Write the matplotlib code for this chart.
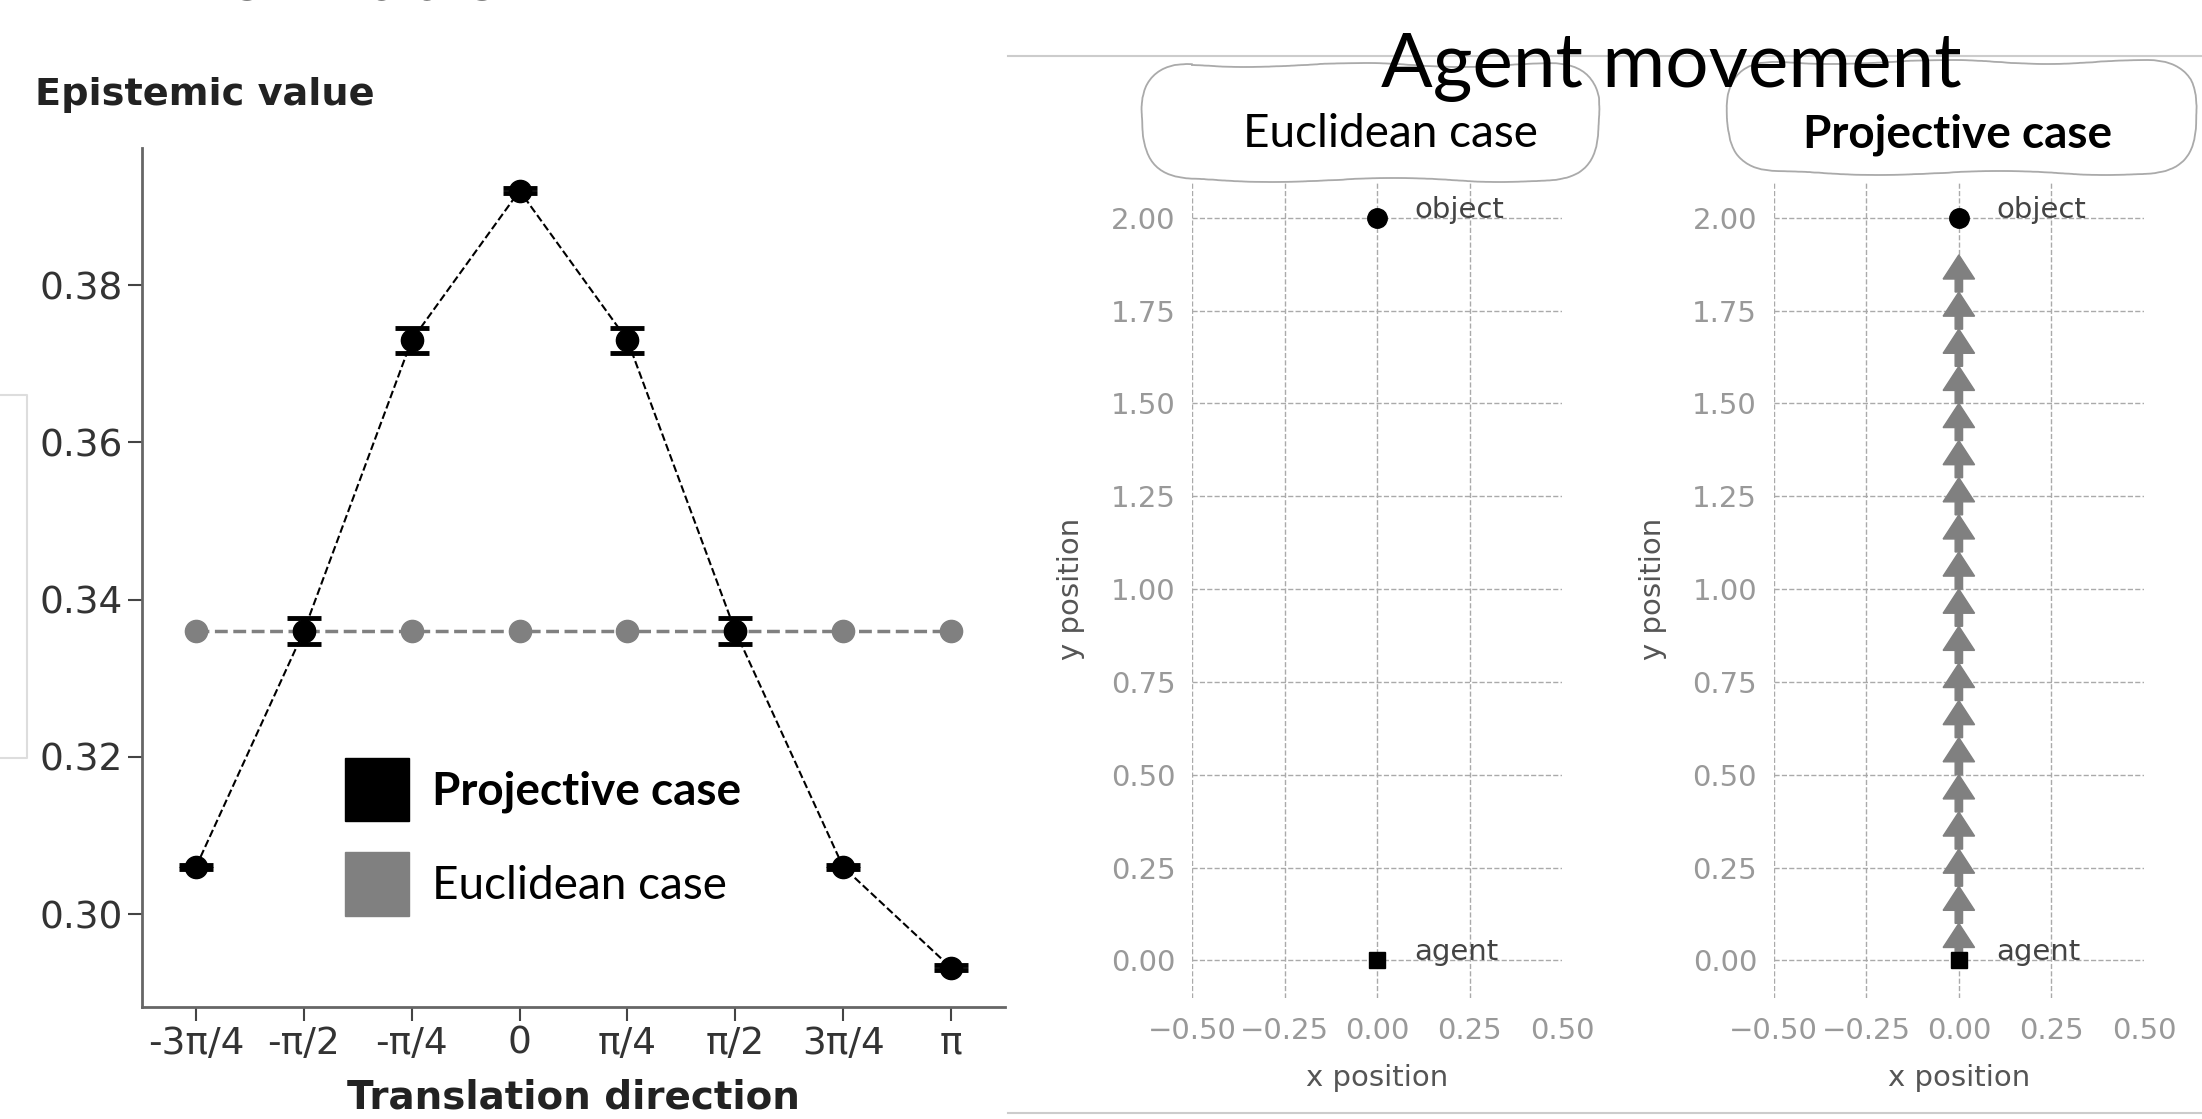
import matplotlib.pyplot as plt
from matplotlib.patches import FancyBboxPatch, Patch

# epistemic value per translation direction
directions = ['-3π/4', '-π/2', '-π/4', '0', 'π/4', 'π/2', '3π/4', 'π']
projective = [0.306, 0.336, 0.373, 0.392, 0.373, 0.336, 0.306, 0.2932]
projective_err = [0.0003, 0.0017, 0.0016, 0.0003, 0.0016, 0.0017, 0.0003, 0.0003]
euclidean = [0.336, 0.336, 0.336, 0.336, 0.336, 0.336, 0.336, 0.336]

# agent movement
object_pos = (0.0, 2.0)
agent_pos = (0.0, 0.0)
traj_x = [0.0] * 20
traj_y = [0.0, 0.1, 0.2, 0.3, 0.4, 0.5, 0.6, 0.7, 0.8, 0.9,
          1.0, 1.1, 1.2, 1.3, 1.4, 1.5, 1.6, 1.7, 1.8, 1.9]

W, H = 2202, 1119
SLIDE_FONT = 'Lato'

fig = plt.figure(figsize=(W / 100, H / 100), dpi=100)


def box(x0, y0, x1, y1):
    # pixel box (top-left origin) -> figure fraction rect
    return [x0 / W, 1 - y1 / H, (x1 - x0) / W, (y1 - y0) / H]


# canvas for the slide decorations
cv = fig.add_axes([0, 0, 1, 1], zorder=0)
cv.set_xlim(0, W)
cv.set_ylim(H, 0)
cv.axis('off')

cv.text(129, -1, 'information', fontsize=58, fontweight='bold',
        family=SLIDE_FONT, va='baseline', ha='left')
cv.plot([0, 27, 27, 0], [395, 395, 758, 758], color='#dddddd', lw=1.5)
cv.plot([1008, W], [56, 56], color='#cccccc', lw=1.5)
cv.plot([1008, W], [1113, 1113], color='#cccccc', lw=1.5)
cv.text(1671, 87, 'Agent movement', fontsize=55, family=SLIDE_FONT,
        ha='center', va='baseline')

for x0, y0, x1, y1 in [(1142, 65, 1600, 180), (1728, 62, 2198, 173)]:
    cloud = FancyBboxPatch((x0, y0), x1 - x0, y1 - y0,
                           boxstyle='round,pad=0,rounding_size=50',
                           fc='white', ec='#aaaaaa', lw=1.3)
    cloud.set_sketch_params(scale=2, length=300, randomness=4)
    cv.add_patch(cloud)
cv.text(1390, 147, 'Euclidean case', fontsize=33, family=SLIDE_FONT,
        ha='center', va='baseline')
cv.text(1958, 147, 'Projective case', fontsize=33, family=SLIDE_FONT,
        fontweight='bold', ha='center', va='baseline')

# ---- left: epistemic value ----
ax = fig.add_axes(box(142, 147.5, 1005, 1007), zorder=1)
ax.set_facecolor('none')
xs = list(range(len(directions)))
ax.plot(xs, euclidean, ls='--', color='#808080', lw=2.5, marker='o',
        ms=16, zorder=2)
ax.errorbar(xs, projective, yerr=projective_err, ls='--', color='black',
            lw=1.5, marker='o', ms=16, elinewidth=3.5, capsize=12,
            capthick=3.5, zorder=3)
ax.set_xlim(-0.5, 7.5)
ax.set_ylim(0.2882, 0.3975)
ax.set_yticks([0.30, 0.32, 0.34, 0.36, 0.38])
ax.set_xticks(xs)
ax.set_xticklabels(directions)
ax.tick_params(labelsize=27, colors='#444444', length=10, width=1.5,
               labelcolor='#333333')
for s in ['top', 'right']:
    ax.spines[s].set_visible(False)
for s in ['left', 'bottom']:
    ax.spines[s].set_color('#666666')
    ax.spines[s].set_linewidth(2)
ax.set_xlabel('Translation direction', fontsize=28, fontweight='bold',
              color='#222222', labelpad=12)
fig.text(35 / W, 1 - 95 / H, 'Epistemic value', fontsize=27.5,
         fontweight='bold', color='#222222', va='center')

handles = [Patch(color='black'), Patch(color='#808080')]
leg = ax.legend(handles, ['Projective case', 'Euclidean case'],
                loc='upper left', bbox_to_anchor=(0.235, 0.29),
                frameon=False, borderpad=0, borderaxespad=0,
                handlelength=1.4, handleheight=1.75, labelspacing=0.68,
                handletextpad=0.5, prop={'family': SLIDE_FONT, 'size': 33})
leg.get_texts()[0].set_fontweight('bold')

# ---- right: two movement panels ----
for (x0, x1), moving in [((1192, 1562), False), ((1773.7, 2144), True)]:
    a = fig.add_axes(box(x0, 180.6, x1, 997.6), zorder=1)
    a.set_facecolor('none')
    a.set_xlim(-0.5, 0.5)
    a.set_ylim(-0.1, 2.1)
    a.set_xticks([-0.5, -0.25, 0.0, 0.25, 0.5])
    a.set_yticks([0.0, 0.25, 0.5, 0.75, 1.0, 1.25, 1.5, 1.75, 2.0])
    a.xaxis.set_major_formatter('{x:.2f}')
    a.yaxis.set_major_formatter('{x:.2f}')
    for s in a.spines.values():
        s.set_visible(False)
    a.tick_params(length=0, labelsize=21, labelcolor='#999999', pad=14)
    a.tick_params(axis='y', pad=12)
    a.grid(True, ls='--', color='#aaaaaa', lw=1)
    a.get_xgridlines()[-1].set_visible(False)
    a.set_axisbelow(True)
    if moving:
        for i in range(len(traj_y) - 1):
            a.arrow(traj_x[i], traj_y[i], traj_x[i + 1] - traj_x[i],
                    traj_y[i + 1] - traj_y[i], width=0.02,
                    head_width=0.085, head_length=0.065,
                    length_includes_head=True, color='#808080', zorder=3)
    a.plot(*object_pos, 'o', color='black', ms=14, zorder=4)
    a.plot(*agent_pos, 's', color='black', ms=12, zorder=4)
    a.text(object_pos[0] + 0.1, object_pos[1], 'object', fontsize=21,
           color='#444444', va='baseline')
    a.text(agent_pos[0] + 0.1, agent_pos[1], 'agent', fontsize=21,
           color='#444444', va='baseline')
    a.set_xlabel('x position', fontsize=21, color='#555555', labelpad=14)
    a.set_ylabel('y position', fontsize=21, color='#555555', labelpad=18)

fig.savefig('out.png', dpi=100)
